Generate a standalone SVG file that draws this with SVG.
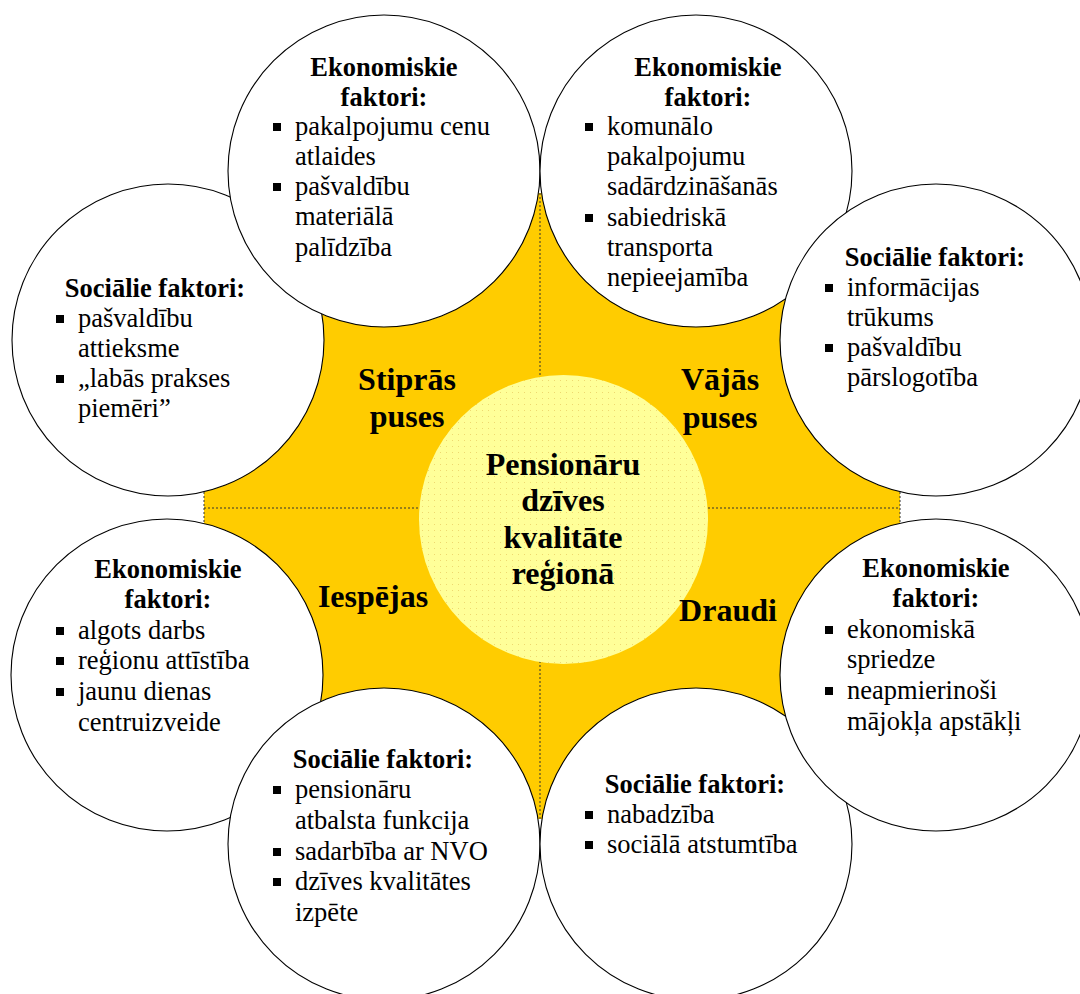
<svg xmlns="http://www.w3.org/2000/svg" width="1080" height="994" viewBox="0 0 1080 994">
<style>
.t{font-family:"Liberation Serif","Times New Roman",serif;font-size:26.5px;fill:#000}
.h{font-weight:bold;text-anchor:middle}
.lbl{font-family:"Liberation Serif","Times New Roman",serif;font-size:32px;font-weight:bold;text-anchor:middle;fill:#000}
.c{fill:#fff;stroke:#000;stroke-width:1.1}
.dot{fill:none;stroke:#333;stroke-width:1;stroke-dasharray:2 2}
</style>
<defs>
<pattern id="dots" width="6" height="6" patternUnits="userSpaceOnUse">
<rect width="6" height="6" fill="#FFFF99"/>
<rect x="2" y="2" width="1" height="1" fill="#EED870"/>
</pattern>
<rect id="bul" width="8" height="8" fill="#000"/>
</defs>
<rect width="1080" height="994" fill="#fff"/>

<g id="background">
<polygon points="204,300 300,193 780,193 900,300 900,715 780,819 300,819 204,715" fill="#FFCC00"/>
</g>
<g id="connectors">
<line class="dot" x1="540" y1="193" x2="540" y2="819"/>
<line class="dot" x1="204" y1="508" x2="900" y2="508"/>
<line class="dot" x1="204" y1="480" x2="204" y2="535"/>
<line class="dot" x1="900" y1="480" x2="900" y2="535"/>
</g>

<g id="center">
<circle cx="563.5" cy="519.5" r="144.5" fill="url(#dots)"/>
<text class="lbl" x="563" y="475">Pensionāru</text>
<text class="lbl" x="563" y="511">dzīves</text>
<text class="lbl" x="563" y="548">kvalitāte</text>
<text class="lbl" x="563" y="584">reģionā</text>
</g>

<g id="quadrant-labels">
<text class="lbl" x="407" y="390">Stiprās</text>
<text class="lbl" x="407" y="427">puses</text>
<text class="lbl" x="720" y="390">Vājās</text>
<text class="lbl" x="720" y="428">puses</text>
<text class="lbl" x="373" y="607">Iespējas</text>
<text class="lbl" x="728" y="621">Draudi</text>
</g>

<g id="strengths-social">
<circle class="c" cx="168" cy="340" r="156"/>
<text class="t h" x="155" y="297">Sociālie faktori:</text>
<use href="#bul" x="56" y="315"/>
<text class="t" x="78" y="327">pašvaldību</text>
<text class="t" x="78" y="357">attieksme</text>
<use href="#bul" x="56" y="375"/>
<text class="t" x="78" y="387">„labās prakses</text>
<text class="t" x="78" y="417">piemēri”</text>
</g>

<g id="strengths-economic">
<circle class="c" cx="384" cy="171" r="156"/>
<text class="t h" x="384" y="76">Ekonomiskie</text>
<text class="t h" x="384" y="106">faktori:</text>
<use href="#bul" x="273" y="123"/>
<text class="t" x="295" y="135">pakalpojumu cenu</text>
<text class="t" x="295" y="165">atlaides</text>
<use href="#bul" x="273" y="183"/>
<text class="t" x="295" y="195">pašvaldību</text>
<text class="t" x="295" y="225">materiālā</text>
<text class="t" x="295" y="256">palīdzība</text>
</g>

<g id="weaknesses-economic">
<circle class="c" cx="696" cy="171" r="156"/>
<text class="t h" x="708" y="76">Ekonomiskie</text>
<text class="t h" x="708" y="106">faktori:</text>
<use href="#bul" x="585" y="123"/>
<text class="t" x="607" y="135">komunālo</text>
<text class="t" x="607" y="165">pakalpojumu</text>
<text class="t" x="607" y="195">sadārdzināšanās</text>
<use href="#bul" x="585" y="214"/>
<text class="t" x="607" y="226">sabiedriskā</text>
<text class="t" x="607" y="256">transporta</text>
<text class="t" x="607" y="286">nepieejamība</text>
</g>

<g id="weaknesses-social">
<circle class="c" cx="936" cy="340" r="156"/>
<text class="t h" x="935" y="266">Sociālie faktori:</text>
<use href="#bul" x="825" y="284"/>
<text class="t" x="847" y="296">informācijas</text>
<text class="t" x="847" y="326">trūkums</text>
<use href="#bul" x="825" y="344"/>
<text class="t" x="847" y="356">pašvaldību</text>
<text class="t" x="847" y="386">pārslogotība</text>
</g>

<g id="opportunities-economic">
<circle class="c" cx="167" cy="675" r="156"/>
<text class="t h" x="168" y="578">Ekonomiskie</text>
<text class="t h" x="168" y="608">faktori:</text>
<use href="#bul" x="56" y="627"/>
<text class="t" x="78" y="639">algots darbs</text>
<use href="#bul" x="56" y="657"/>
<text class="t" x="78" y="669">reģionu attīstība</text>
<use href="#bul" x="56" y="688"/>
<text class="t" x="78" y="700">jaunu dienas</text>
<text class="t" x="78" y="731">centruizveide</text>
</g>

<g id="opportunities-social">
<circle class="c" cx="384" cy="844" r="156"/>
<text class="t h" x="383" y="768">Sociālie faktori:</text>
<use href="#bul" x="273" y="786"/>
<text class="t" x="295" y="798">pensionāru</text>
<text class="t" x="295" y="829">atbalsta funkcija</text>
<use href="#bul" x="273" y="848"/>
<text class="t" x="295" y="860">sadarbība ar NVO</text>
<use href="#bul" x="273" y="878"/>
<text class="t" x="295" y="890">dzīves kvalitātes</text>
<text class="t" x="295" y="921">izpēte</text>
</g>

<g id="threats-social">
<circle class="c" cx="696" cy="844" r="156"/>
<text class="t h" x="695" y="793">Sociālie faktori:</text>
<use href="#bul" x="585" y="811"/>
<text class="t" x="607" y="823">nabadzība</text>
<use href="#bul" x="585" y="841"/>
<text class="t" x="607" y="853">sociālā atstumtība</text>
</g>

<g id="threats-economic">
<circle class="c" cx="936" cy="675" r="156"/>
<text class="t h" x="936" y="577">Ekonomiskie</text>
<text class="t h" x="936" y="607">faktori:</text>
<use href="#bul" x="825" y="626"/>
<text class="t" x="847" y="638">ekonomiskā</text>
<text class="t" x="847" y="668">spriedze</text>
<use href="#bul" x="825" y="687"/>
<text class="t" x="847" y="699">neapmierinoši</text>
<text class="t" x="847" y="730">mājokļa apstākļi</text>
</g>
</svg>
